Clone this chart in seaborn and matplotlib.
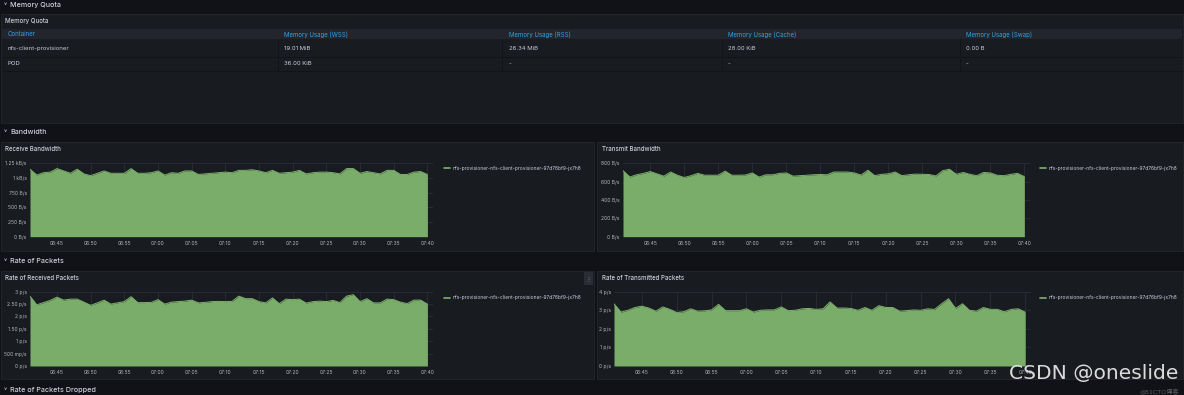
import numpy as np
import pandas as pd
import matplotlib
matplotlib.use("Agg")
import matplotlib.pyplot as plt
import matplotlib.dates as mdates
from matplotlib.patches import Rectangle
from matplotlib.lines import Line2D
import seaborn as sns

W, H = 1184, 395

# ---- data ----
table_columns = ["Container", "Memory Usage (WSS)", "Memory Usage (RSS)",
                 "Memory Usage (Cache)", "Memory Usage (Swap)"]
table_row_1 = ["nfs-client-provisioner", "19.01 MiB", "26.34 MiB", "28.00 KiB", "0.00 B"]
table_row_2 = ["POD", "36.00 KiB", "-", "-", "-"]
series_name = "nfs-provisioner-nfs-client-provisioner-97d76bf9-jx7h8"
time_start = "2023-01-01 06:41:00"
time_end = "2023-01-01 07:40:00"

receive_bw = [1150, 1050, 1090, 1100, 1160, 1120, 1080, 1150, 1070, 1040,
              1080, 1120, 1080, 1080, 1080, 1160, 1080, 1080, 1090, 1120,
              1050, 1090, 1080, 1120, 1120, 1060, 1070, 1080, 1090, 1100,
              1090, 1130, 1130, 1140, 1120, 1090, 1130, 1080, 1090, 1100,
              1130, 1070, 1090, 1100, 1100, 1090, 1070, 1160, 1160, 1080,
              1110, 1090, 1070, 1130, 1130, 1060, 1060, 1100, 1110, 1060]
transmit_bw = [720, 650, 675, 690, 710, 685, 660, 705, 670, 645,
               665, 690, 670, 670, 670, 715, 670, 670, 672, 695,
               650, 675, 675, 690, 695, 660, 665, 670, 675, 678,
               675, 705, 705, 705, 695, 672, 725, 665, 680, 685,
               705, 665, 675, 682, 680, 678, 662, 720, 735, 680,
               700, 680, 665, 700, 695, 670, 665, 680, 690, 655]
received_pkts = [2.82, 2.47, 2.56, 2.65, 2.78, 2.66, 2.70, 2.70, 2.58, 2.45,
                 2.55, 2.66, 2.50, 2.55, 2.60, 2.80, 2.56, 2.56, 2.57, 2.68,
                 2.50, 2.58, 2.60, 2.62, 2.66, 2.55, 2.57, 2.60, 2.61, 2.60,
                 2.61, 2.82, 2.72, 2.72, 2.60, 2.55, 2.75, 2.52, 2.70, 2.68,
                 2.70, 2.54, 2.60, 2.62, 2.60, 2.65, 2.56, 2.82, 2.88, 2.60,
                 2.72, 2.55, 2.55, 2.70, 2.68, 2.58, 2.52, 2.66, 2.66, 2.50]
transmitted_pkts = [3.35, 2.90, 3.00, 3.15, 3.22, 3.12, 2.95, 3.18, 3.05, 2.88,
                    2.92, 3.08, 2.95, 2.97, 3.02, 3.32, 2.98, 2.98, 2.98, 3.08,
                    2.90, 3.00, 3.02, 3.02, 3.18, 2.98, 3.00, 3.08, 3.10, 3.05,
                    3.08, 3.45, 3.12, 3.12, 3.10, 3.00, 3.15, 3.00, 3.25, 3.15,
                    3.15, 2.95, 2.98, 3.02, 3.00, 3.08, 3.05, 3.35, 3.62, 3.10,
                    3.35, 3.00, 2.95, 3.15, 3.05, 3.05, 2.92, 3.05, 3.08, 2.90]

recv_bw_ticks = [0, 250, 500, 750, 1000, 1250]
recv_bw_labels = ["0 B/s", "250 B/s", "500 B/s", "750 B/s", "1 kB/s", "1.25 kB/s"]
tx_bw_ticks = [0, 200, 400, 600, 800]
tx_bw_labels = ["0 B/s", "200 B/s", "400 B/s", "600 B/s", "800 B/s"]
recv_pkt_ticks = [0, 0.5, 1, 1.5, 2, 2.5, 3]
recv_pkt_labels = ["0 p/s", "500 mp/s", "1 p/s", "1.50 p/s", "2 p/s", "2.50 p/s", "3 p/s"]
tx_pkt_ticks = [0, 1, 2, 3, 4]
tx_pkt_labels = ["0 p/s", "1 p/s", "2 p/s", "3 p/s", "4 p/s"]

# ---- style ----
sns.set_theme(style="dark")
plt.rcParams['font.family'] = ['Inter', 'DejaVu Sans', 'Noto Sans CJK SC']

BG = '#111217'
PANEL = '#181b1f'
BORDER = '#24262c'
TEXT = '#ccccdc'
TICK = '#b4b6bd'
BLUE = '#33a2e5'
GREEN = '#7eb26d'
GRID = '#2b2e34'

fig = plt.figure(figsize=(W / 100, H / 100), dpi=100, facecolor=BG)


def rect(x0, y0, x1, y1, color, edge=None, lw=0.0, z=-2):
    fig.add_artist(Rectangle((x0 / W, 1 - y1 / H), (x1 - x0) / W, (y1 - y0) / H,
                             transform=fig.transFigure, facecolor=color,
                             edgecolor=edge if edge else color, lw=lw, zorder=z))


def line(x0, y0, x1, y1, color, lw=0.6, z=-1):
    fig.add_artist(Line2D([x0 / W, x1 / W], [1 - y0 / H, 1 - y1 / H],
                          transform=fig.transFigure, color=color, lw=lw, zorder=z))


def txt(x, y, s, size, color=TEXT, **kw):
    fig.text(x / W, 1 - y / H, s, fontsize=size, color=color, va='center', **kw)


# row headers
for y, name in [(5, "Memory Quota"), (132, "Bandwidth"),
                (261, "Rate of Packets"), (390, "Rate of Packets Dropped")]:
    txt(4, y, "˅", 5)
    txt(10, y, name, 5.2, weight='medium')

# table panel
rect(1, 14, 1183, 123, PANEL, BORDER, 0.6)
txt(5, 21, "Memory Quota", 4.4, weight='medium')
rect(2, 29, 1182, 39, '#22252b', z=-1)
col_x = [8, 284, 509, 728, 966]
sep_x = [277.5, 502, 722, 959.5]
for x, name in zip(col_x, table_columns):
    txt(x, 34.5, name, 4.4, color=BLUE)
for x, val in zip(col_x, table_row_1):
    txt(x, 48.3, val, 4.3)
for x, val in zip(col_x, table_row_2):
    txt(x, 63.3, val, 4.3)
line(2, 56.7, 1182, 56.7, '#121317')
line(2, 71.3, 1182, 71.3, '#121317')
for x in sep_x:
    line(x, 39, x, 71.3, '#121317')

# time-series panels
rect(1, 142, 594, 251, PANEL, BORDER, 0.6)
rect(597, 142, 1183, 251, PANEL, BORDER, 0.6)
rect(1, 271, 594, 379, PANEL, BORDER, 0.6)
rect(597, 271, 1183, 379, PANEL, BORDER, 0.6)
rect(584, 272, 593, 285, '#2a2d33', z=-1)
txt(588.5, 278.5, "⋮", 4.5, color='#9fa1a8', ha='center')

txt(5, 149.3, "Receive Bandwidth", 4.4, weight='medium')
txt(602, 149.3, "Transmit Bandwidth", 4.4, weight='medium')
txt(5, 278.3, "Rate of Received Packets", 4.4, weight='medium')
txt(602, 278.3, "Rate of Transmitted Packets", 4.4, weight='medium')


def draw_ts(left, top, right, bottom, values, ticks, labels, legend_x, legend_y):
    ax = fig.add_axes([left / W, 1 - bottom / H, (right - left) / W, (bottom - top) / H])
    ax.set_facecolor('none')
    times = pd.date_range(time_start, time_end, periods=len(values))
    df = pd.DataFrame({'time': times, 'value': values})
    ax.fill_between(df['time'], df['value'], color=GREEN, alpha=0.97, lw=0, zorder=2)
    sns.lineplot(data=df, x='time', y='value', ax=ax, color=GREEN, lw=0.7, zorder=3)
    ax.set_xlim(times[0], times[-1] + pd.Timedelta(seconds=50))
    ax.set_ylim(ticks[0], ticks[-1])
    ax.set_yticks(ticks)
    ax.set_yticklabels(labels)
    ax.xaxis.set_major_locator(mdates.MinuteLocator(byminute=range(0, 60, 5)))
    ax.xaxis.set_major_formatter(mdates.DateFormatter('%H:%M'))
    ax.grid(True, color=GRID, lw=0.6)
    ax.set_axisbelow(True)
    for s in ax.spines.values():
        s.set_visible(False)
    ax.tick_params(length=0, labelsize=3.6, colors=TICK)
    ax.tick_params(axis='x', pad=3)
    ax.tick_params(axis='y', pad=2.4)
    ax.set_xlabel('')
    ax.set_ylabel('')
    line(legend_x, legend_y, legend_x + 6, legend_y, GREEN, lw=1.2, z=3)
    txt(legend_x + 9, legend_y, series_name, 3.55)
    return ax


draw_ts(30, 163.3, 433, 236.7, receive_bw, recv_bw_ticks, recv_bw_labels, 444, 168.3)
draw_ts(623, 163.3, 1030, 236.7, transmit_bw, tx_bw_ticks, tx_bw_labels, 1040, 168.3)
draw_ts(30, 291.7, 433, 366, received_pkts, recv_pkt_ticks, recv_pkt_labels, 444, 297.5)
draw_ts(614, 291.7, 1031, 366, transmitted_pkts, tx_pkt_ticks, tx_pkt_labels, 1040, 297.5)

# watermark
fig.text(1009 / W, 1 - 373 / H, "CSDN @oneslide", fontsize=14.6, color='#ececec',
         va='center', ha='left', family=['DejaVu Sans'], alpha=0.92)
fig.text(1140 / W, 1 - 392 / H, "@51CTO博客", fontsize=4.5, color='#5a5c62',
         va='center', ha='left', family=['DejaVu Sans', 'Noto Sans CJK SC'])

fig.savefig("out.png", dpi=100, facecolor=BG)
